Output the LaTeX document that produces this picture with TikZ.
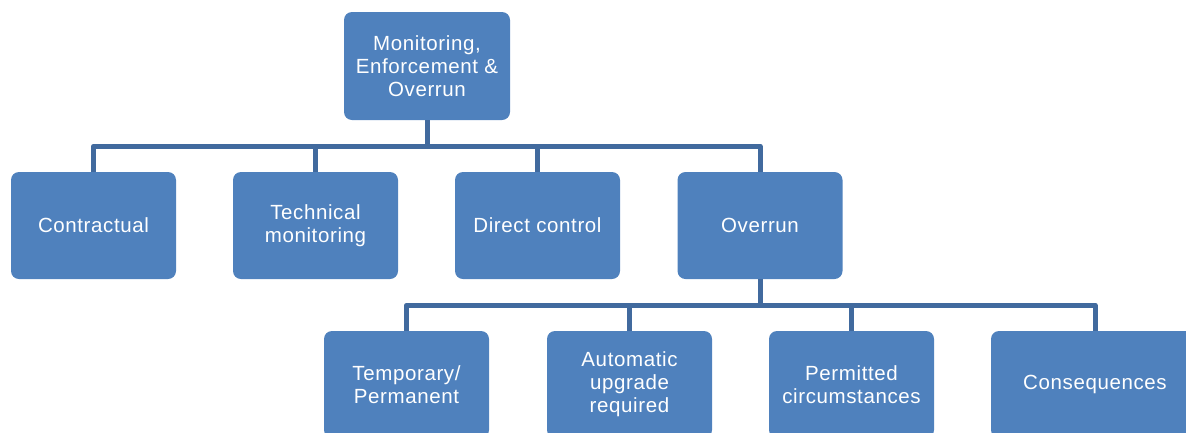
\documentclass[tikz,border=0pt]{standalone}
\usepackage{fontspec}
\setmainfont[LetterSpace=3]{Liberation Sans}
\usetikzlibrary{calc}
\definecolor{boxblue}{RGB}{79,129,189}
\definecolor{lineblue}{RGB}{65,106,158}
\begin{document}
\begin{tikzpicture}[x=1pt,y=-1pt,
  box/.style={rectangle, rounded corners=8pt, fill=boxblue, draw=none, text=white,
    minimum width=165pt, minimum height=107pt, align=center, inner sep=0pt,
    font=\fontsize{20.5}{23}\selectfont},
  conn/.style={draw=lineblue, line width=5pt, line join=round}]
\useasboundingbox (0,0) rectangle (1186,432);
\clip (0,0) rectangle (1186,432);
\node[box, minimum width=166pt, minimum height=108pt] (top) at (427,66) {Monitoring,\\Enforcement \&\\Overrun};
\node[box] (c1) at (93.5,225.5) {Contractual};
\node[box] (c2) at (315.5,225.5) {Technical\\monitoring};
\node[box] (c3) at (537.5,225.5) {Direct control};
\node[box] (c4) at (760,225.5) {Overrun};
\node[box] (d1) at (406.5,384.5) {Temporary/\\Permanent};
\node[box] (d2) at (629.5,384.5) {Automatic\\upgrade\\required};
\node[box] (d3) at (851.5,384.5) {Permitted\\circumstances};
\node[box, minimum width=208pt] (d4) at (1095,384.5) {Consequences};
\coordinate (b1) at ($(top.south)+(0,26)$);
\foreach \c in {c1,c2,c3,c4}{
  \draw[conn] (top.south) -- (b1) -| (\c.north);
}
\coordinate (b2) at ($(c4.south)+(0,26)$);
\foreach \d in {d1,d2,d3,d4}{
  \draw[conn] (c4.south) -- (b2) -| (\d.north);
}
\end{tikzpicture}
\end{document}
